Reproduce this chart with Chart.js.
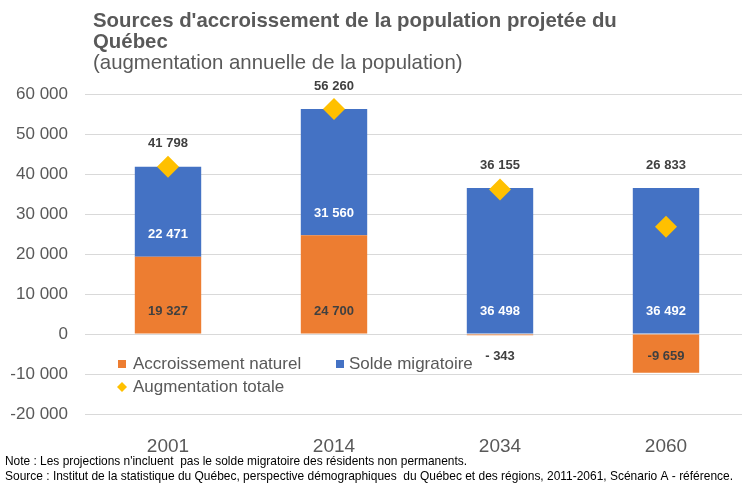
<!DOCTYPE html>
<html>
<head>
<meta charset="utf-8">
<script src="https://cdn.jsdelivr.net/npm/chart.js@4.4.1/dist/chart.umd.min.js"></script>
<style>
  html, body { margin: 0; padding: 0; background: #fff; overflow: hidden; }
  #wrap { width: 742px; height: 483px; overflow: hidden; }
</style>
</head>
<body>
<div id="wrap"><canvas id="chart" width="760" height="483"></canvas></div>
<script>
const years = ['2001', '2014', '2034', '2060'];
const naturel = [19327, 24700, -343, -9659];
const migratoire = [22471, 31560, 36498, 36492];
const totale = [41798, 56260, 36155, 26833];
const yMin = -20000;
const yMax = 60000;
const yStep = 10000;

const titleLines = ["Sources d'accroissement de la population projetée du", 'Québec'];
const subtitle = '(augmentation annuelle de la population)';
const notes = [
    "Note : Les projections n'incluent  pas le solde migratoire des résidents non permanents.",
    'Source : Institut de la statistique du Québec, perspective démographiques  du Québec et des régions, 2011-2061, Scénario A - référence.'
];

const ORANGE = '#ED7D31';
const BLUE = '#4472C4';
const GOLD = '#FFC000';
const GREY = '#595959';
const FONT = "'Liberation Sans', Arial, sans-serif";

// nombre au format "# ##0"
function fmt(v) {
    const a = Math.abs(v);
    const s = String(a).replace(/\B(?=(\d{3})+(?!\d))/g, ' ');
    if (v < 0) return (a < 1000 ? '- ' : '-') + s;
    return s;
}

const extras = {
    id: 'extras',
    afterDatasetsDraw(chart) {
        const ctx = chart.ctx;
        ctx.save();
        ctx.textAlign = 'center';
        ctx.textBaseline = 'middle';
        ctx.font = 'bold 13px ' + FONT;

        // étiquettes des segments
        [0, 1].forEach(di => {
            const meta = chart.getDatasetMeta(di);
            meta.data.forEach((bar, i) => {
                const v = chart.data.datasets[di].data[i];
                const dir = bar.y < bar.base ? -1 : 1;
                const y = bar.base + dir * 22;
                ctx.fillStyle = di === 1 ? '#ffffff' : '#404040';
                ctx.fillText(fmt(v), bar.x, y);
            });
        });

        // totaux au-dessus des barres
        const blueMeta = chart.getDatasetMeta(1);
        blueMeta.data.forEach((bar, i) => {
            ctx.fillStyle = '#404040';
            ctx.fillText(fmt(totale[i]), bar.x, bar.y - 23);
        });

        // légende
        ctx.font = '17px ' + FONT;
        ctx.textAlign = 'left';
        ctx.fillStyle = ORANGE;
        ctx.fillRect(118, 360, 8, 8);
        ctx.fillStyle = GREY;
        ctx.fillText('Accroissement naturel', 133, 364);
        ctx.fillStyle = BLUE;
        ctx.fillRect(336, 360, 8, 8);
        ctx.fillStyle = GREY;
        ctx.fillText('Solde migratoire', 349, 364);
        ctx.fillStyle = GOLD;
        ctx.beginPath();
        ctx.moveTo(122, 382);
        ctx.lineTo(127, 387);
        ctx.lineTo(122, 392);
        ctx.lineTo(117, 387);
        ctx.closePath();
        ctx.fill();
        ctx.fillStyle = GREY;
        ctx.fillText('Augmentation totale', 133, 387);

        // titre
        ctx.font = 'bold 20.4px ' + FONT;
        ctx.fillText(titleLines[0], 93, 21);
        ctx.fillText(titleLines[1], 93, 42);
        ctx.font = '20.4px ' + FONT;
        ctx.fillText(subtitle, 93, 63);

        // notes
        ctx.fillStyle = '#000000';
        ctx.font = "13px 'Liberation Sans Narrow', 'Liberation Sans', Arial, sans-serif";
        ctx.fillText(notes[0], 5, 461, 462);
        ctx.fillText(notes[1], 5, 476, 728);
        ctx.restore();
    }
};

new Chart(document.getElementById('chart'), {
    data: {
        labels: years,
        datasets: [
            {
                type: 'bar',
                label: 'Accroissement naturel',
                data: naturel,
                backgroundColor: ORANGE,
                stack: 'pop',
                order: 1,
                barPercentage: 0.4,
                categoryPercentage: 1
            },
            {
                type: 'bar',
                label: 'Solde migratoire',
                data: migratoire,
                backgroundColor: BLUE,
                stack: 'pop',
                order: 1,
                barPercentage: 0.4,
                categoryPercentage: 1
            },
            {
                type: 'line',
                label: 'Augmentation totale',
                data: totale,
                stack: 'total',
                order: 0,
                showLine: false,
                pointStyle: 'rectRot',
                pointRadius: 11,
                pointBackgroundColor: GOLD,
                pointBorderColor: GOLD,
                pointBorderWidth: 0
            }
        ]
    },
    options: {
        responsive: false,
        animation: false,
        devicePixelRatio: 1,
        layout: { padding: { top: 94, left: 0, right: 0, bottom: 0 } },
        scales: {
            x: {
                stacked: true,
                grid: { display: false },
                border: { display: false },
                ticks: { color: GREY, font: { family: FONT, size: 19 }, padding: 13 },
                afterFit(scale) { scale.height = 69; }
            },
            y: {
                stacked: true,
                min: yMin,
                max: yMax,
                grid: { color: '#D9D9D9', drawTicks: false },
                border: { display: false },
                ticks: {
                    stepSize: yStep,
                    color: GREY,
                    padding: 17,
                    font: { family: FONT, size: 17 },
                    callback: v => fmt(v)
                },
                afterFit(scale) { scale.width = 85; }
            }
        },
        plugins: {
            legend: { display: false },
            tooltip: { enabled: false }
        }
    },
    plugins: [extras]
});
</script>
</body>
</html>
